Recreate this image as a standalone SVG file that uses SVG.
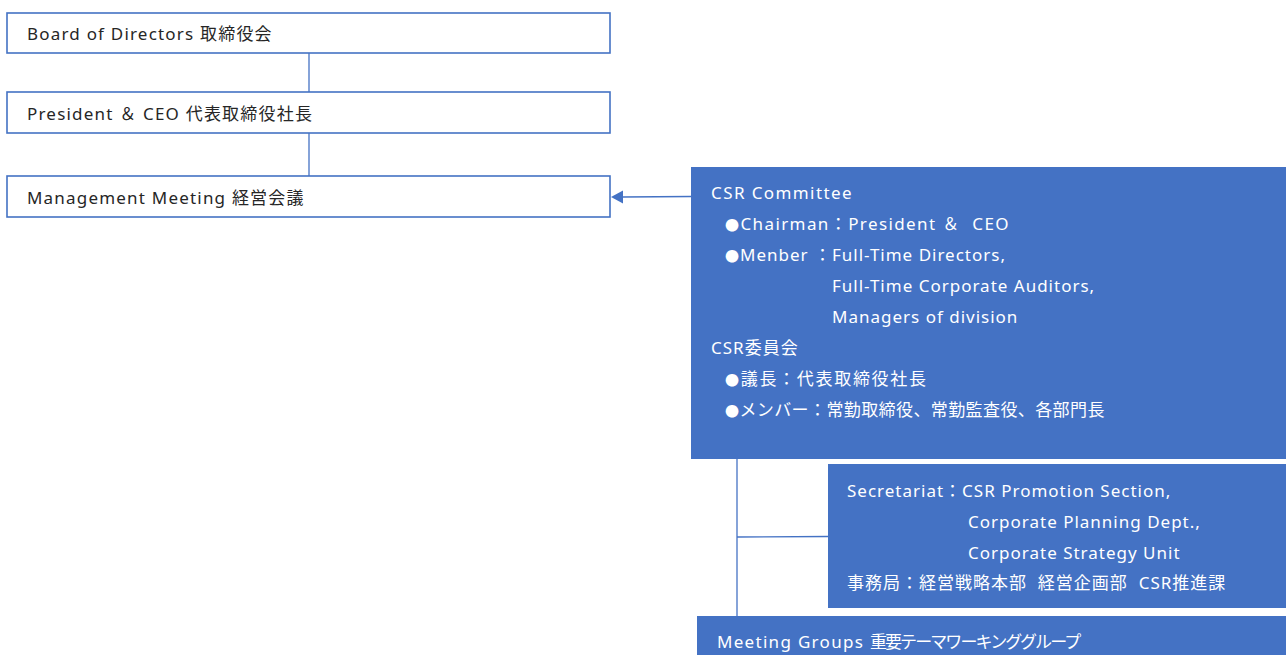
<svg xmlns="http://www.w3.org/2000/svg" width="1286" height="655" viewBox="0 0 1286 655">
<style>
.box{fill:#fff;stroke:#4472C4;stroke-width:1.6}
.fill{fill:#4472C4}
.t{font-family:"Noto Sans","Noto Sans CJK JP",sans-serif;font-size:17px;letter-spacing:1.2px;fill:#262626}
.w{font-family:"Noto Sans","Noto Sans CJK JP",sans-serif;font-size:17px;letter-spacing:1px;fill:#fff}
.b{font-size:14px}
.ln{stroke:#4472C4;stroke-width:1.3;fill:none}
</style>
<rect width="1286" height="655" fill="#fff"/>
<g id="connectors">
<line class="ln" x1="309" y1="53" x2="309" y2="92"/>
<line class="ln" x1="309" y1="133" x2="309" y2="176"/>
<line class="ln" x1="691" y1="196.5" x2="622" y2="197"/>
<path d="M623,190.5 L611,197 L623,203.5 Z" fill="#4472C4"/>
<line class="ln" x1="737" y1="459" x2="737" y2="616"/>
<line class="ln" x1="737" y1="537" x2="828" y2="536.5"/>
</g>
<g id="board">
<rect class="box" x="7" y="13" width="603" height="40"/>
<text class="t" x="27" y="40">Board of Directors 取締役会</text>
</g>
<g id="president">
<rect class="box" x="7" y="92" width="603" height="41"/>
<text class="t" x="27" y="120">President ＆ CEO 代表取締役社長</text>
</g>
<g id="management">
<rect class="box" x="7" y="176" width="603" height="41"/>
<text class="t" x="27" y="204">Management Meeting 経営会議</text>
</g>
<g id="csr">
<rect class="fill" x="691" y="167" width="595" height="292"/>
<text class="w" x="711" y="199" style="letter-spacing:1.4px">CSR Committee</text>
<text class="w" x="725" y="230" style="letter-spacing:1.4px"><tspan class="b">●</tspan>Chairman：President ＆&#160;&#160;CEO</text>
<text class="w" x="725" y="261"><tspan class="b">●</tspan>Menber ：Full-Time Directors,</text>
<text class="w" x="832" y="292">Full-Time Corporate Auditors,</text>
<text class="w" x="832" y="323">Managers of division</text>
<text class="w" x="711" y="354">CSR委員会</text>
<text class="w" x="725" y="385" style="letter-spacing:1.7px"><tspan class="b">●</tspan>議長：代表取締役社長</text>
<text class="w" x="725" y="416" style="letter-spacing:0.4px"><tspan class="b">●</tspan>メンバー：常勤取締役、常勤監査役、各部門長</text>
</g>
<g id="secretariat">
<rect class="fill" x="828" y="464" width="458" height="144"/>
<text class="w" x="847" y="497">Secretariat：CSR Promotion Section,</text>
<text class="w" x="968" y="528">Corporate Planning Dept.,</text>
<text class="w" x="968" y="559">Corporate Strategy Unit</text>
<text class="w" x="847" y="589">事務局：経営戦略本部&#160; 経営企画部&#160; CSR推進課</text>
</g>
<g id="meeting">
<rect class="fill" x="697" y="616" width="589" height="39"/>
<text class="w" x="717" y="648" style="letter-spacing:1.3px">Meeting Groups <tspan style="letter-spacing:-1.9px">重要テーマワーキンググループ</tspan></text>
</g>
</svg>
